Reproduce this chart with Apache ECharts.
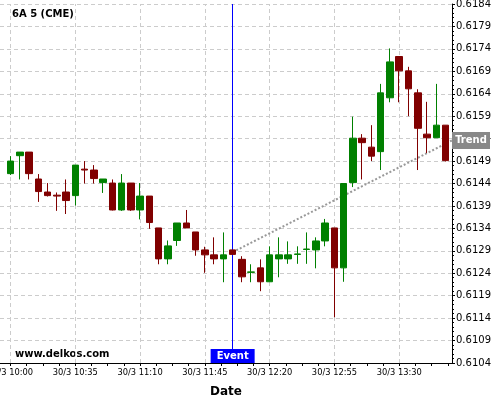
<!DOCTYPE html>
<html>
<head>
<meta charset="utf-8">
<script src="https://cdn.jsdelivr.net/npm/echarts@6/dist/echarts.min.js"></script>
<style>html,body{margin:0;padding:0;background:#fff}#c{width:500px;height:400px}</style>
</head>
<body>
<div id="c"></div>
<script>
// ---- data (5-minute candles, 30/3 from 10:00) ----
var times = ['10:00','10:05','10:10','10:15','10:20','10:25','10:30','10:35','10:40','10:45',
  '10:50','10:55','11:00','11:05','11:10','11:15','11:20','11:25','11:30','11:35',
  '11:40','11:45','11:50','11:55','12:00','12:05','12:10','12:15','12:20','12:25',
  '12:30','12:35','12:40','12:45','12:50','12:55','13:00','13:05','13:10','13:15',
  '13:20','13:25','13:30','13:35','13:40','13:45','13:50','13:55'];
var openP = [0.61462,0.61502,0.61510,0.61450,0.61421,0.61414,0.61421,0.61413,0.61472,0.61470,
  0.61442,0.61441,0.61381,0.61441,0.61381,0.61412,0.61341,0.61272,0.61313,0.61352,
  0.61332,0.61292,0.61281,0.61272,0.61292,0.61271,0.61242,0.61252,0.61221,0.61272,
  0.61272,0.61282,0.61293,0.61292,0.61312,0.61341,0.61252,0.61442,0.61541,0.61521,
  0.61511,0.61631,0.61723,0.61691,0.61642,0.61550,0.61542,0.61570];
var closeP = [0.61490,0.61510,0.61462,0.61422,0.61413,0.61412,0.61402,0.61481,0.61470,0.61451,
  0.61450,0.61381,0.61441,0.61381,0.61412,0.61353,0.61272,0.61301,0.61352,0.61341,
  0.61292,0.61281,0.61272,0.61281,0.61282,0.61232,0.61243,0.61221,0.61281,0.61281,
  0.61281,0.61283,0.61294,0.61312,0.61352,0.61252,0.61440,0.61541,0.61531,0.61501,
  0.61642,0.61711,0.61691,0.61651,0.61563,0.61542,0.61570,0.61491];
var lowP = [0.61459,0.61449,0.61449,0.61399,0.61411,0.61379,0.61372,0.61391,0.61440,0.61440,
  0.61419,0.61380,0.61379,0.61379,0.61360,0.61339,0.61260,0.61260,0.61301,0.61341,
  0.61279,0.61241,0.61260,0.61220,0.61282,0.61220,0.61220,0.61200,0.61221,0.61231,
  0.61261,0.61261,0.61261,0.61251,0.61300,0.61142,0.61221,0.61432,0.61449,0.61490,
  0.61470,0.61621,0.61621,0.61590,0.61470,0.61508,0.61542,0.61489];
var highP = [0.61501,0.61510,0.61510,0.61461,0.61441,0.61420,0.61449,0.61481,0.61490,0.61481,
  0.61450,0.61449,0.61461,0.61441,0.61441,0.61412,0.61341,0.61313,0.61352,0.61381,
  0.61332,0.61299,0.61320,0.61331,0.61292,0.61278,0.61260,0.61271,0.61300,0.61320,
  0.61311,0.61300,0.61331,0.61320,0.61361,0.61341,0.61440,0.61589,0.61550,0.61570,
  0.61662,0.61741,0.61723,0.61700,0.61650,0.61622,0.61662,0.61570];
var dateLabel = '30/3';
var labelEvery = 7;           // one x label every 7 candles (35 min)
var yMinP = 0.6104, yMaxP = 0.6184, yStepP = 0.0005;
var eventIndex = 24;
var trendStart = 0.61287, trendEnd = 0.61536;

// ---- build ----
function pip(v){ return Math.round((v - yMinP) * 1e6) / 100; }
var xMin = -1.135, xMax = 47.70;
var yTop = pip(yMaxP);
var candles = times.map(function(t, i){
  return [i, pip(openP[i]), pip(closeP[i]), pip(lowP[i]), pip(highP[i])];
});
var labelIdx = [], tickIdx = [];
for (var i = 0; i < times.length; i += labelEvery) labelIdx.push(i);
for (var k = 0; k * labelEvery / 4 <= xMax; k++) tickIdx.push(k * labelEvery / 4);
var green = '#008000', red = '#800000';
var gridLines = labelIdx.map(function(i){
  return [{coord: [i, 0], lineStyle: {color: '#ccc', width: 1, type: [4,3]}}, {coord: [i, yTop]}];
});
var chart = echarts.init(document.getElementById('c'), null, {renderer:'canvas'});
chart.setOption({
  animation: false,
  backgroundColor: '#fff',
  textStyle: {fontFamily: 'DejaVu Sans'},
  title: {text: '6A 5 (CME)', left: 12, top: 9, padding: 0,
    textStyle: {fontSize: 10, fontWeight: 'bold', color: '#000', fontFamily: 'DejaVu Sans'}},
  graphic: [{type: 'text', left: 15, top: 349,
    style: {text: 'www.delkos.com', font: 'bold 10px "DejaVu Sans"', fill: '#000'}}],
  grid: {left: 0, right: 48, top: 4, bottom: 37, containLabel: false, outerBoundsMode: 'none'},
  xAxis: {
    type: 'value', min: xMin, max: xMax,
    name: 'Date', nameLocation: 'middle', nameGap: 23,
    nameTextStyle: {fontSize: 12, fontWeight: 'bold', color: '#000'},
    axisLine: {show: true, onZero: false, lineStyle: {color: '#000'}},
    axisTick: {show: true, length: 3, customValues: tickIdx, lineStyle: {color: '#000'}},
    axisLabel: {fontSize: 8.3, color: '#000', margin: 6, customValues: labelIdx,
      showMinLabel: true, showMaxLabel: true, hideOverlap: false,
      formatter: function(v){
        var i = Math.round(v);
        if (i < 0 || i >= times.length) return '';
        return dateLabel + ' ' + times[i];
      }},
    splitLine: {show: false},
    minorSplitLine: {show: false}
  },
  yAxis: {
    type: 'value', position: 'right', min: 0, max: yTop, interval: pip(yMinP + yStepP),
    axisLine: {show: true, onZero: false, lineStyle: {color: '#000'}},
    axisTick: {show: true, length: 3, lineStyle: {color: '#000'}},
    minorTick: {show: true, splitNumber: 5, length: 2, lineStyle: {color: '#000'}},
    axisLabel: {fontSize: 10, color: '#000', margin: 4,
      formatter: function(v){ return (yMinP + v / 10000).toFixed(4); }},
    splitLine: {show: true, lineStyle: {color: '#ccc', type: [4,3]}}
  },
  series: [{
    type: 'candlestick',
    data: candles,
    encode: {x: 0, y: [1,2,3,4]},
    barWidth: 7,
    z: 3,
    itemStyle: {color: green, color0: red, borderColor: green, borderColor0: red, borderWidth: 1},
    markLine: {
      silent: true, symbol: 'none', animation: false, z: 1,
      label: {show: false},
      data: gridLines.concat([
        [{coord: [eventIndex, 0], lineStyle: {color: '#0000ff', width: 1, type: 'solid'}}, {coord: [eventIndex, yTop]}],
        [{coord: [eventIndex, pip(trendStart)], lineStyle: {color: '#999', width: 2, type: [2,2]}},
         {coord: [xMax, pip(trendEnd)]}]
      ])
    },
    markPoint: {
      silent: true, animation: false,
      data: [
        {coord: [eventIndex, 0], symbol: 'rect', symbolSize: [44, 14], symbolOffset: [0, -7],
          itemStyle: {color: '#0000ff'},
          label: {show: true, position: 'inside', formatter: 'Event', color: '#fff', fontWeight: 'bold', fontSize: 10}},
        {coord: [xMax, pip(trendEnd)], symbol: 'rect', symbolSize: [38, 17], symbolOffset: [19, 0],
          itemStyle: {color: '#888'},
          label: {show: true, position: 'inside', formatter: 'Trend', color: '#fff', fontWeight: 'bold', fontSize: 10}}
      ]
    }
  }]
});
</script>
</body>
</html>
